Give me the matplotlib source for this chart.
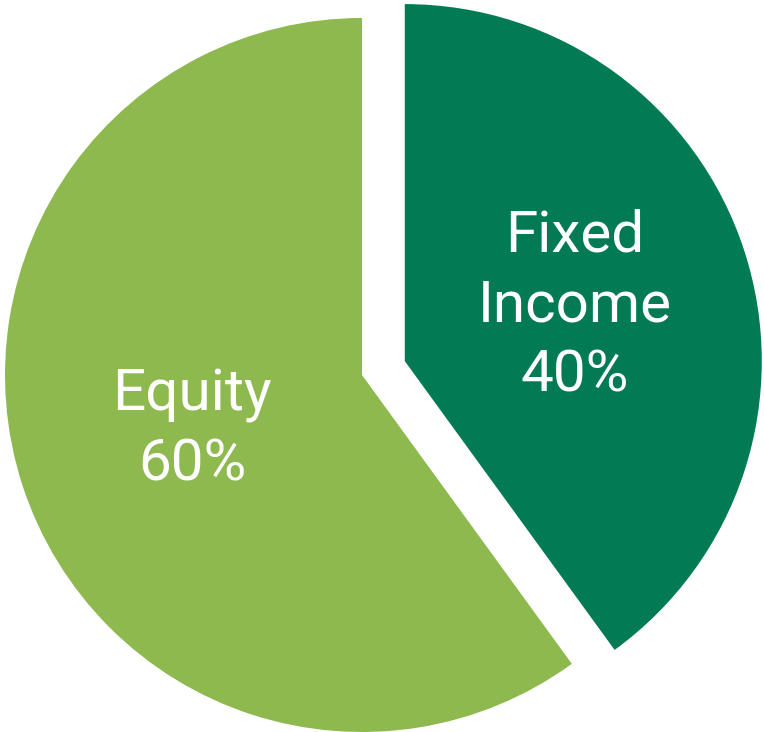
import matplotlib.pyplot as plt

# data
labels = ["Fixed\nIncome\n40%", "Equity\n60%"]
shares = [40, 60]
colors = ["#027B55", "#8DB94F"]
explode = [0.126, 0]

plt.rcParams['font.family'] = ['Liberation Sans Narrow', 'Roboto', 'DejaVu Sans']

fig = plt.figure(figsize=(7.64, 7.32), dpi=100)
ax = fig.add_axes([0, 0, 1, 1])

wedges, texts = ax.pie(shares, labels=labels, colors=colors, explode=explode,
                       startangle=90, counterclock=False, radius=1.0,
                       labeldistance=0.5,
                       textprops=dict(color="white", fontsize=42, ha="center",
                                      va="center", linespacing=1.35,
                                      fontstretch="condensed"))

ax.set_xlim(-362 / 357, (764 - 362) / 357)
ax.set_ylim(-(732 - 375) / 357, 375 / 357)
ax.set_aspect("equal")
ax.axis("off")

fig.savefig("out.png", dpi=100)
